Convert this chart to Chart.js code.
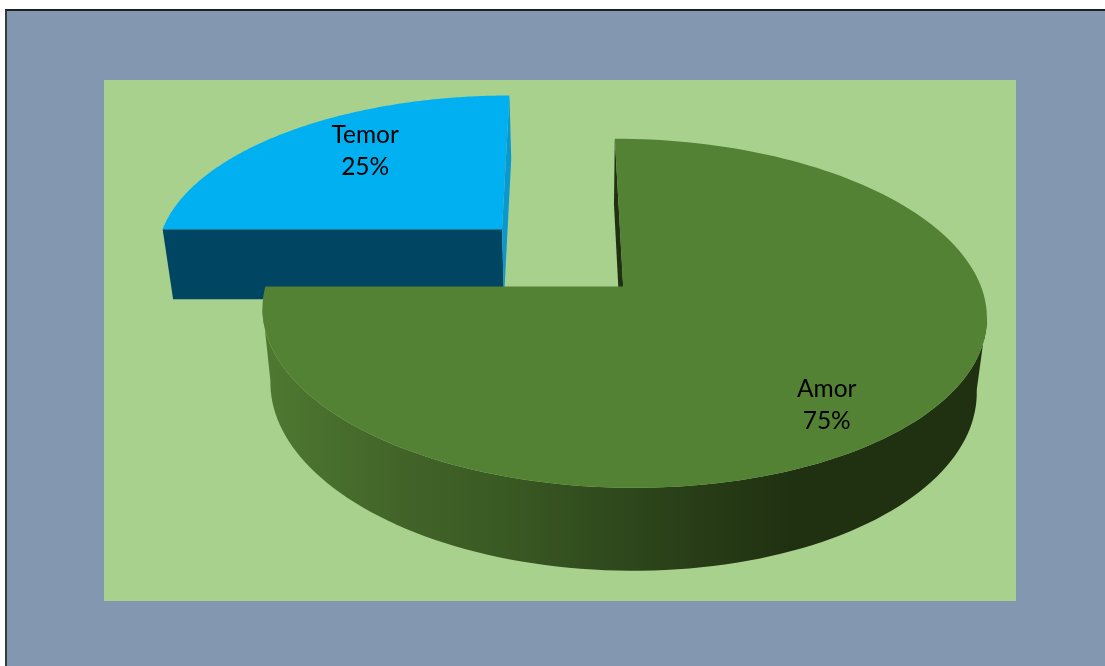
<!DOCTYPE html>
<html>
<head>
<meta charset="utf-8">
<title>Amor y Temor</title>
<script src="https://cdn.jsdelivr.net/npm/chart.js@4/dist/chart.umd.min.js"></script>
<style>
    html, body { margin: 0; padding: 0; background: #fff; overflow: hidden; }
    #page { position: relative; width: 1105px; height: 666px; }
    #frame { position: absolute; left: 5px; top: 9px; right: 0; bottom: 0; background: #8497b0; border-left: 2px solid #333a42; border-top: 2px solid #1c2024; }
    #plotBg { position: absolute; left: 104px; top: 80px; width: 912px; height: 521px; background: #a9d18e; }
    #pie { position: absolute; left: 0; top: 0; }
</style>
</head>
<body>
<div id="page">
    <div id="frame"></div>
    <div id="plotBg"></div>
    <canvas id="pie" width="1105" height="666"></canvas>
</div>
<script>
const categories = ['Amor', 'Temor'];
const values = [75, 25];
const percentLabels = ['75%', '25%'];
const topColors = ['#548235', '#00b0f0'];

// how the flat pie from Chart.js gets laid down as a tilted disc
const view = {
    vanishX: 560.5, pieX: 561, pieZ: -64.5, squeezeX: 0.983, radius: 358, dist: 2325,
    horizon: -821, height: 1108,
    lowHorizon: -803.6, lowHeight: 1163.5, lowShrink: 0.975, lowShift: 0.5
};
const labelSpots = [{ turn: 0.115, r: 0.8 }, { turn: 0.1, r: 0.71 }];

const project = (x, z, low) => {
    const s = 1 / (1 - z / view.dist);
    if (low) {
        return [view.vanishX + view.lowShift + (x - view.vanishX) * s * view.lowShrink, view.lowHorizon + view.lowHeight * s];
    }
    return [view.vanishX + (x - view.vanishX) * s, view.horizon + view.height * s];
};

// outline points of one arc element, in world units
const worldOf = (arc) => {
    const k = view.radius / arc.outerRadius;
    const mid = (arc.startAngle + arc.endAngle) / 2;
    const off = arc.options.offset * k;
    return {
        cx: view.pieX + Math.cos(mid) * off * view.squeezeX,
        cz: view.pieZ + Math.sin(mid) * off,
        start: arc.startAngle,
        end: arc.endAngle,
        mid
    };
};

const rimPoints = (w, low) => {
    const pts = [];
    const steps = 160;
    for (let i = 0; i <= steps; i++) {
        const a = w.start + (w.end - w.start) * i / steps;
        pts.push(project(w.cx + Math.cos(a) * view.radius, w.cz + Math.sin(a) * view.radius, low));
    }
    return pts;
};

const fillPoly = (ctx, pts, color) => {
    ctx.beginPath();
    pts.forEach((p, i) => (i ? ctx.lineTo(p[0], p[1]) : ctx.moveTo(p[0], p[1])));
    ctx.closePath();
    ctx.fillStyle = color;
    ctx.fill();
};

// part of a rim between its rightmost and leftmost point
const frontPart = (pts) => {
    const xs = pts.map(p => p[0]);
    return pts.slice(xs.indexOf(Math.max(...xs)), xs.indexOf(Math.min(...xs)) + 1);
};

const drawWedge = (ctx, w, colors) => {
    const top = rimPoints(w, false);
    const low = rimPoints(w, true);
    const hubTop = project(w.cx, w.cz, false);
    const hubLow = project(w.cx, w.cz, true);
    const last = top.length - 1;

    if (colors.wall) fillPoly(ctx, frontPart(top).concat(frontPart(low).reverse()), colors.wall);
    if (colors.startFace) fillPoly(ctx, [hubTop, top[0], low[0], hubLow], colors.startFace);
    if (colors.endFace) fillPoly(ctx, [hubTop, top[last], low[last], hubLow], colors.endFace);
    fillPoly(ctx, [hubTop].concat(top), colors.top);
};

const pie3d = {
    id: 'pie3d',
    beforeDatasetsDraw(chart) {
        const ctx = chart.ctx;
        const arcs = chart.getDatasetMeta(0).data;
        const amor = worldOf(arcs[0]);
        const temor = worldOf(arcs[1]);

        // Temor sits behind, so it goes first
        drawWedge(ctx, temor, {
            startFace: '#004561',
            endFace: '#0a98cf',
            top: topColors[1]
        });

        const wallFill = ctx.createLinearGradient(265, 0, 800, 0);
        wallFill.addColorStop(0, '#4e7931');
        wallFill.addColorStop(0.25, '#426429');
        wallFill.addColorStop(0.44, '#3a5a23');
        wallFill.addColorStop(0.63, '#304b1d');
        wallFill.addColorStop(0.81, '#283d17');
        wallFill.addColorStop(0.98, '#203111');
        wallFill.addColorStop(1, '#203111');
        drawWedge(ctx, amor, {
            wall: wallFill,
            startFace: '#203111',
            top: topColors[0]
        });

        ctx.save();
        ctx.fillStyle = '#000';
        ctx.font = '24.5px Lato';
        ctx.textAlign = 'center';
        ctx.textBaseline = 'middle';
        [amor, temor].forEach((w, i) => {
            const a = w.mid + labelSpots[i].turn;
            const r = view.radius * labelSpots[i].r;
            const p = project(w.cx + Math.cos(a) * r, w.cz + Math.sin(a) * r, false);
            ctx.fillText(categories[i], p[0], p[1] - 16);
            ctx.fillText(percentLabels[i], p[0], p[1] + 16);
        });
        ctx.restore();

        return false;
    },
    beforeDatasetDraw() {
        return false;
    }
};

new Chart(document.getElementById('pie'), {
    type: 'pie',
    data: {
        labels: categories,
        datasets: [{
            data: values,
            backgroundColor: topColors,
            borderWidth: 0,
            offset: 74,
            hoverOffset: 0
        }]
    },
    options: {
        responsive: false,
        animation: false,
        events: [],
        plugins: { legend: { display: false }, tooltip: { enabled: false } }
    },
    plugins: [pie3d]
});
</script>
</body>
</html>
